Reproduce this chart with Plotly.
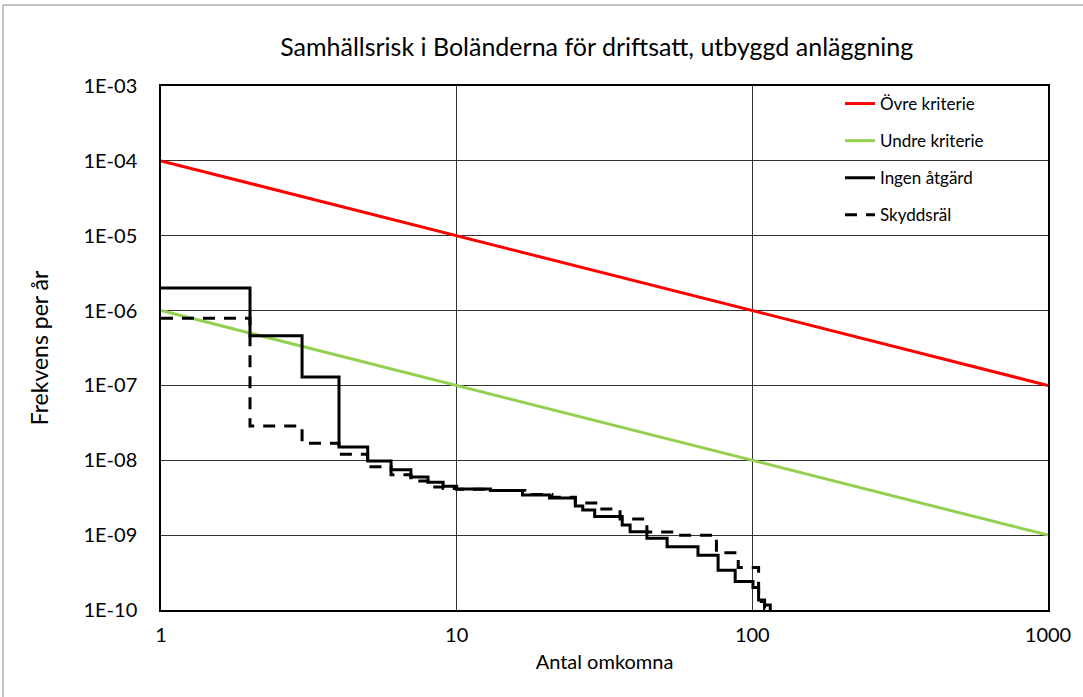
import plotly.graph_objects as go

# ---------------- data ----------------
crit_n = [1, 1000]
ovre_kriterie = [1e-4, 1e-7]
undre_kriterie = [1e-6, 1e-9]

ingen_n = [1, 2, 3, 4, 5, 6, 7, 8, 9, 10, 13, 16.7, 20.6, 25.2, 26.7, 29.3,
           36.3, 38.6, 44, 51.5, 65.5, 76.6, 87.5, 100.5, 105, 110, 115]
ingen_f = [2.0e-6, 4.6e-7, 1.3e-7, 1.5e-8, 9.8e-9, 7.5e-9, 6.0e-9, 5.1e-9, 4.5e-9,
           4.14e-9, 3.95e-9, 3.44e-9, 3.13e-9, 2.45e-9, 2.17e-9, 1.77e-9,
           1.37e-9, 1.11e-9, 9.1e-10, 7.0e-10, 5.4e-10, 3.4e-10, 2.4e-10, 2.0e-10,
           1.36e-10, 1.17e-10, 8e-11]

skydd_n = [1, 2, 3, 4, 5, 6, 7, 8, 9, 10, 13, 17, 21, 25.2, 30.6, 35.7, 44, 56,
           75.6, 89.6, 105, 110, 112]
skydd_f = [7.9e-7, 2.87e-8, 1.69e-8, 1.2e-8, 8.2e-9, 6.4e-9, 5.3e-9, 4.4e-9, 4.2e-9,
           4.1e-9, 3.95e-9, 3.5e-9, 3.2e-9, 2.69e-9, 2.24e-9, 1.64e-9, 1.1e-9, 1.0e-9,
           5.8e-10, 3.7e-10, 1.3e-10, 1.05e-10, 8e-11]

y_tickvals = [1e-3, 1e-4, 1e-5, 1e-6, 1e-7, 1e-8, 1e-9, 1e-10]
y_ticktext = ["1E-03", "1E-04", "1E-05", "1E-06", "1E-07", "1E-08", "1E-09", "1E-10"]
x_tickvals = [1, 10, 100, 1000]
x_ticktext = ["1", "10", "100", "1000"]

FONT = "Lato"

fig = go.Figure()
fig.add_trace(go.Scatter(x=crit_n, y=ovre_kriterie, mode="lines", name="Övre kriterie",
                         line=dict(color="#FF0000", width=3), legendgroup="a"))
fig.add_trace(go.Scatter(x=crit_n, y=undre_kriterie, mode="lines", name="Undre kriterie",
                         line=dict(color="#92D050", width=3), legendgroup="b"))
fig.add_trace(go.Scatter(x=ingen_n, y=ingen_f, mode="lines", name="Ingen åtgärd",
                         line=dict(color="black", width=3, shape="hv"), legendgroup="c"))
fig.add_trace(go.Scatter(x=skydd_n, y=skydd_f, mode="lines", name="Skyddsräl",
                         line=dict(color="black", width=3, shape="hv", dash="12px,9px"),
                         legendgroup="d"))

fig.update_layout(
    width=1083, height=697,
    margin=dict(l=161, r=35, t=86, b=87),
    paper_bgcolor="white", plot_bgcolor="white",
    font=dict(family=FONT, color="black"),
    title=dict(text="Samhällsrisk i Boländerna för driftsatt, utbyggd anläggning",
               x=0.551, xref="container", xanchor="center",
               y=1 - 47 / 697, yref="container", yanchor="middle",
               font=dict(size=25, color="black", family=FONT)),
    xaxis=dict(type="log", range=[0, 3], tickvals=x_tickvals, ticktext=x_ticktext,
               showgrid=True, gridcolor="#333333", gridwidth=1,
               showline=True, linecolor="black", linewidth=1.5, mirror=True,
               ticks="", ticklabelstandoff=6, tickfont=dict(size=20),
               title=dict(text="Antal omkomna", font=dict(size=20), standoff=10),
               zeroline=False),
    yaxis=dict(type="log", range=[-10, -3], tickvals=y_tickvals, ticktext=y_ticktext,
               showgrid=True, gridcolor="#333333", gridwidth=1,
               showline=True, linecolor="black", linewidth=1.5, mirror=True,
               ticks="", ticklabelstandoff=18, tickfont=dict(size=20),
               title=dict(text="Frekvens per år", font=dict(size=23), standoff=28),
               zeroline=False),
    legend=dict(x=(840 - 161) / 887, xanchor="left", y=1.0, yanchor="top",
                bgcolor="rgba(0,0,0,0)", borderwidth=0, tracegroupgap=12,
                font=dict(size=17, color="black", family=FONT)),
    showlegend=True,
    shapes=[
        # white backdrop behind the legend (covers gridlines like the original)
        dict(type="rect", xref="paper", yref="paper",
             x0=(770 - 161) / 887, x1=0.998, y0=(610 - 230) / 524, y1=0.998,
             fillcolor="white", line=dict(width=0), layer="between"),
        # outer chart-area border
        dict(type="rect", xref="paper", yref="paper",
             x0=(3 - 161) / 887, x1=(1095 - 161) / 887,
             y0=(610 - 705) / 524, y1=(610 - 5) / 524,
             fillcolor="rgba(0,0,0,0)", line=dict(color="#8c8c8c", width=1), layer="below"),
    ],
)

fig.write_html("out.html", config={"displayModeBar": False},
               post_script="document.body.style.margin='0';document.body.style.padding='0';")
